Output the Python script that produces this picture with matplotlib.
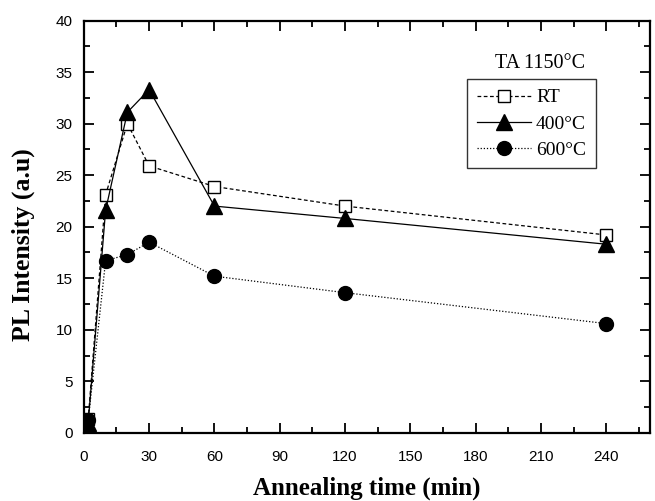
import numpy as np
import matplotlib
matplotlib.use("Agg")
import matplotlib.pyplot as plt
from matplotlib.ticker import MultipleLocator

# dati
tempo = [2, 10, 20, 30, 60, 120, 240]  # min
pl_rt = [1.3, 23.1, 30.0, 25.9, 23.9, 22.0, 19.2]
pl_400 = [1.0, 21.6, 31.1, 33.3, 22.0, 20.8, 18.3]
pl_600 = [1.2, 16.7, 17.3, 18.5, 15.2, 13.6, 10.6]

serif = "Liberation Serif"
sans = "Liberation Sans"

fig = plt.figure(figsize=(6.55, 5.01), dpi=100)
ax = fig.add_axes([0.128, 0.136, 0.864, 0.823])

ax.plot(tempo, pl_rt, ls=(0, (3, 2)), lw=0.9, color='black', marker='s', ms=9,
        mfc='white', mec='black', mew=1.0, label='RT')
ax.plot(tempo, pl_400, ls='-', lw=0.9, color='black', marker='^', ms=12,
        mfc='black', mec='black', label='400°C')
ax.plot(tempo, pl_600, ls=(0, (1, 1.5)), lw=0.9, color='black', marker='o', ms=10,
        mfc='black', mec='black', label='600°C')

ax.set_xlim(0, 260)
ax.set_ylim(0, 40)
ax.xaxis.set_major_locator(MultipleLocator(30))
ax.xaxis.set_minor_locator(MultipleLocator(15))
ax.yaxis.set_major_locator(MultipleLocator(5))
ax.yaxis.set_minor_locator(MultipleLocator(2.5))
ax.set_xticks(np.arange(0, 241, 30))

ax.tick_params(which='both', direction='in', top=True, right=True, width=1.3)
ax.tick_params(which='major', length=7, labelsize=11)
ax.tick_params(axis='x', which='major', pad=12)
ax.tick_params(axis='y', which='major', pad=8)
ax.tick_params(which='minor', length=4)
for lab in ax.get_xticklabels() + ax.get_yticklabels():
    lab.set_fontfamily(sans)
for s in ax.spines.values():
    s.set_linewidth(1.6)

ax.set_xlabel('Annealing time (min)', fontfamily=serif, fontweight='bold', fontsize=18)
ax.set_ylabel('PL Intensity (a.u)', fontfamily=serif, fontweight='bold', fontsize=18.5)
ax.xaxis.set_label_coords(0.5, -0.106)
ax.yaxis.set_label_coords(-0.087, 0.456)

leg = ax.legend(loc='upper left', bbox_to_anchor=(0.677, 0.858), prop={'family': serif, 'size': 14},
                frameon=True, fancybox=False, edgecolor='black', handlelength=2.8,
                handletextpad=0.25, borderpad=0.5, labelspacing=0.44, borderaxespad=0)
leg.get_frame().set_linewidth(1.0)

ax.text(0.807, 0.897, 'TA 1150°C', transform=ax.transAxes, ha='center', va='center',
        fontfamily=serif, fontsize=14.5)

fig.savefig('out.png', dpi=100)
